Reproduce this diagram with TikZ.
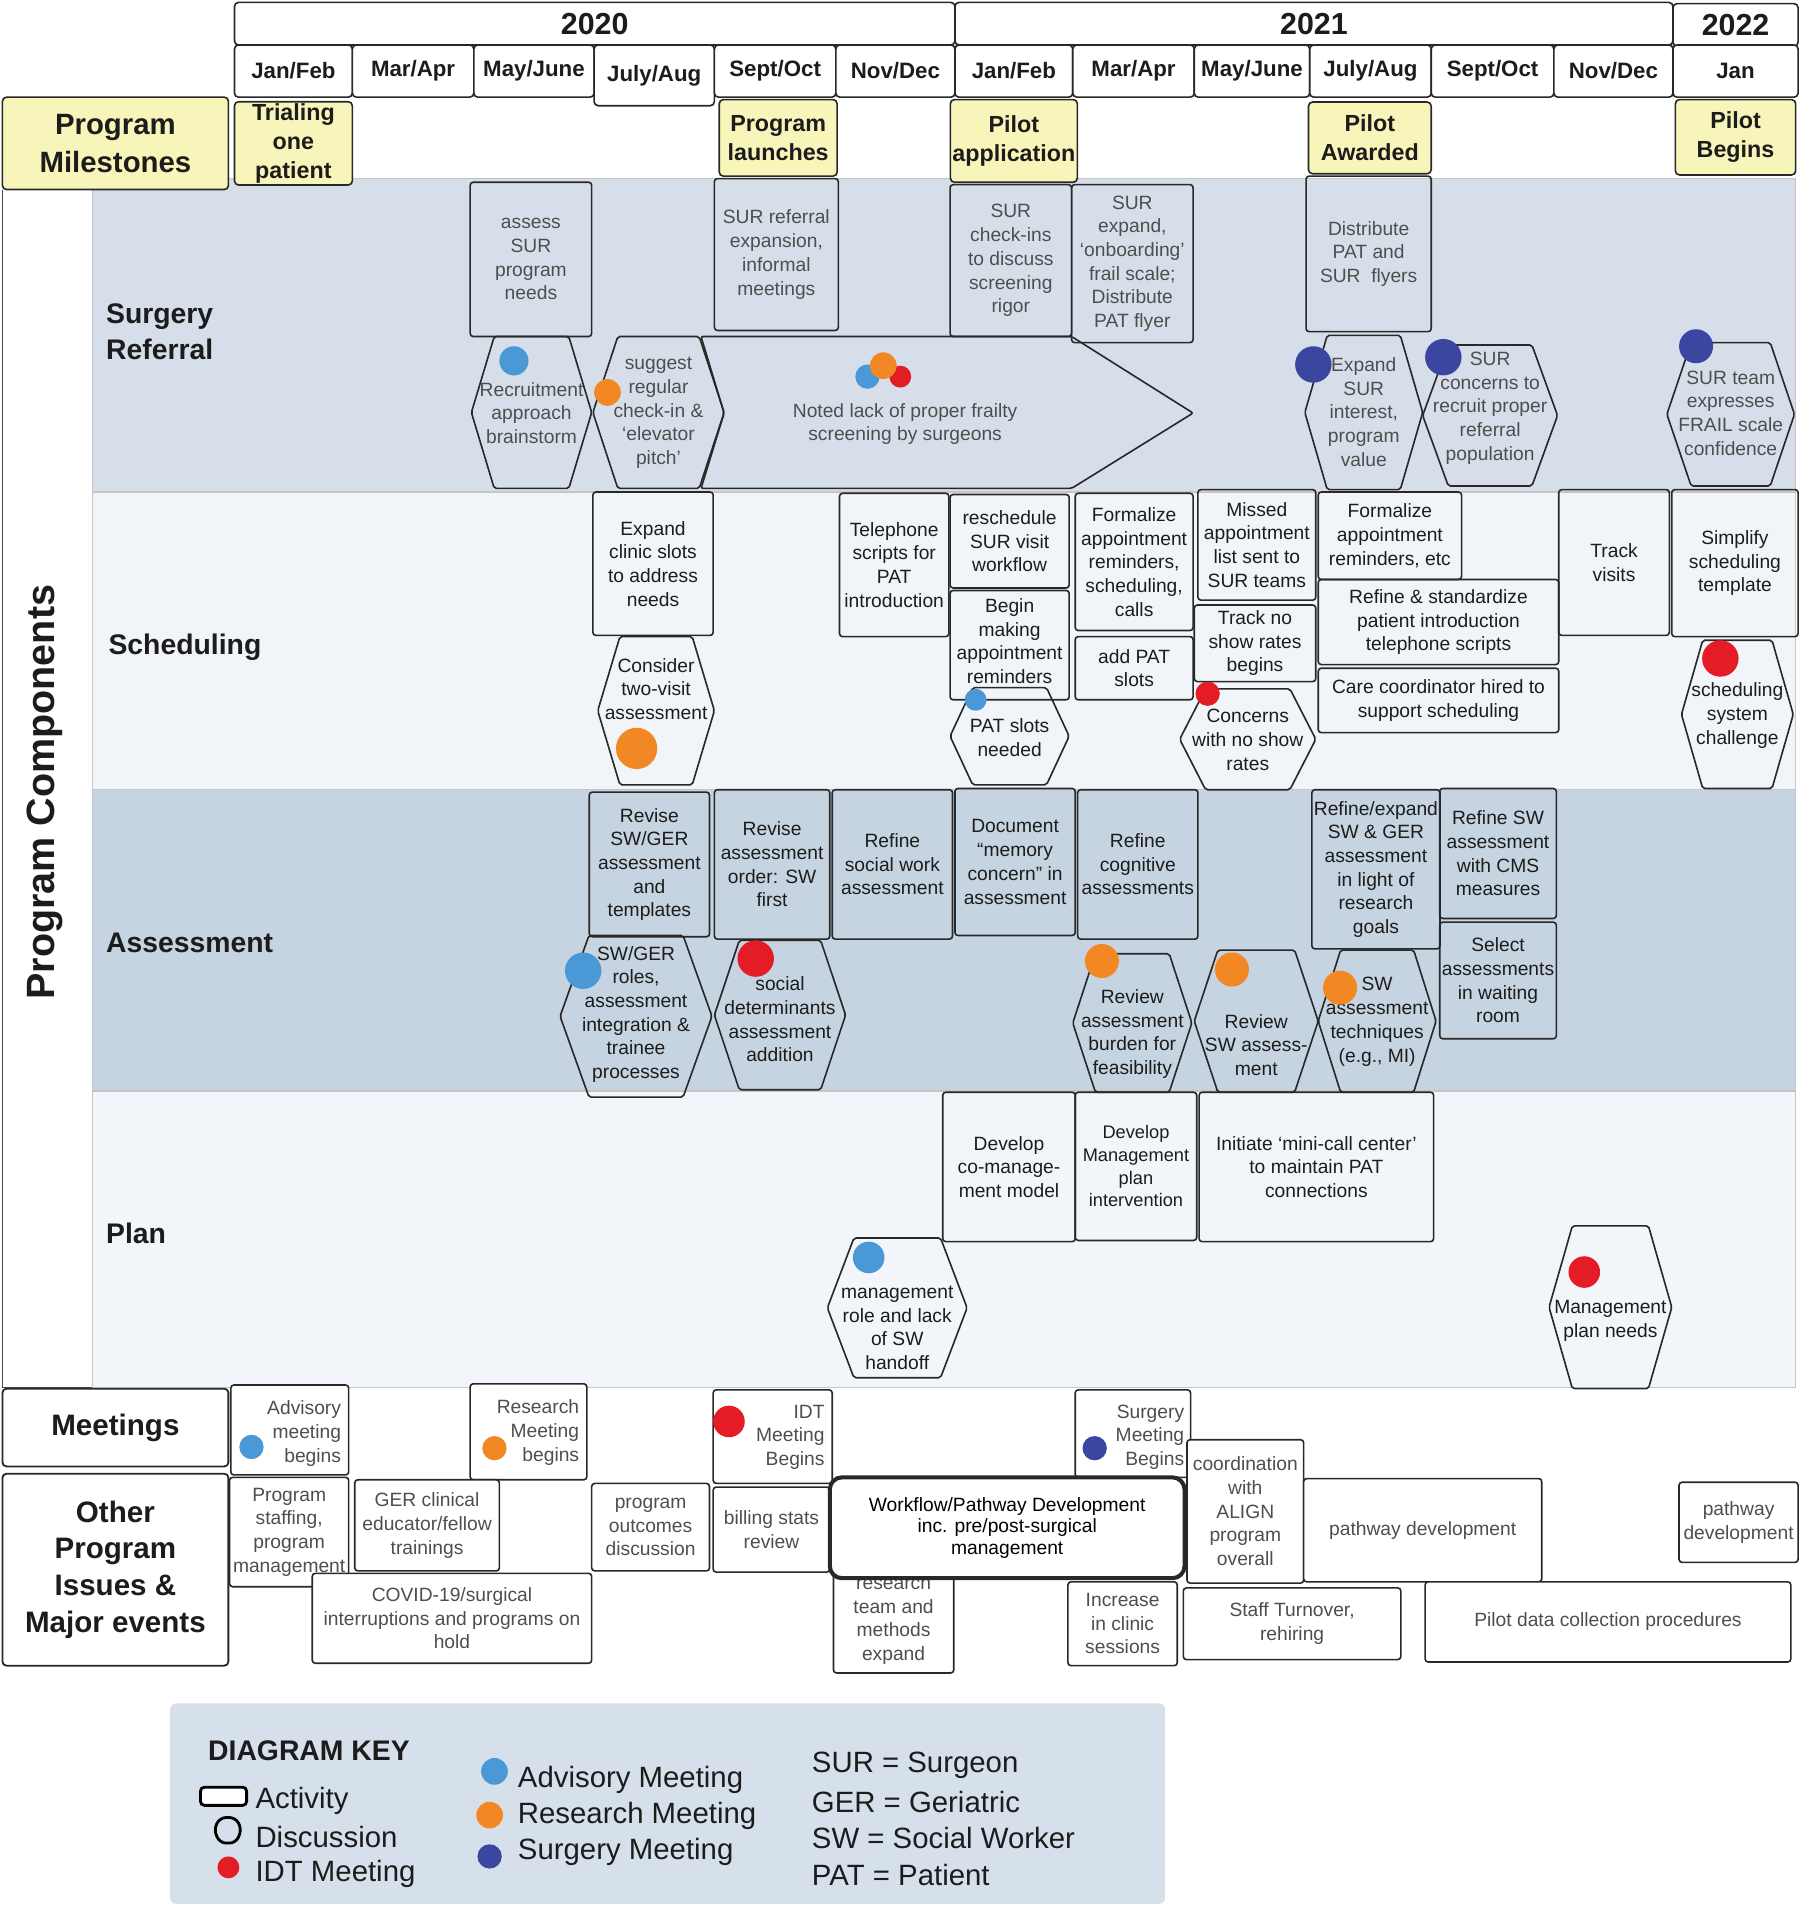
\documentclass[tikz,border=0pt]{standalone}
\usepackage{fontspec}
\setmainfont{Liberation Sans}
\definecolor{laneA}{RGB}{214,223,233}
\definecolor{laneB}{RGB}{241,245,250}
\definecolor{laneC}{RGB}{198,211,224}
\definecolor{laneD}{RGB}{242,246,251}
\definecolor{msY}{RGB}{248,245,186}
\definecolor{dBlue}{RGB}{74,152,214}
\definecolor{dOrange}{RGB}{242,136,36}
\definecolor{dRed}{RGB}{228,28,38}
\definecolor{dNavy}{RGB}{58,70,160}
\definecolor{keyBg}{RGB}{214,224,234}
\definecolor{txtG}{RGB}{78,78,78}
\definecolor{txtD}{RGB}{28,28,28}
\definecolor{edge}{RGB}{40,40,40}
\newcommand\actb[7][act]{%
  \pgfmathsetmacro\abw{(#5-#3)*0.6}\pgfmathsetmacro\abh{(#6-#4)*0.6}%
  \node[#1,minimum width=\abw pt,minimum height=\abh pt] (#2) at ({(#3+#5)/2},{(#4+#6)/2}) {#7};}
\newcommand\hexb[8][htxt]{%
  \pgfmathsetmacro\hxd{0.19*(#5-#3)}\pgfmathsetmacro\hxm{(#4+#6)/2}%
  \pgfmathsetmacro\hxa{#3+\hxd}\pgfmathsetmacro\hxb{#5-\hxd}%
  \draw[hexs] (#3,\hxm) -- (\hxa,#4) -- (\hxb,#4) -- (#5,\hxm) -- (\hxb,#6) -- (\hxa,#6) -- cycle;
  \node[#1] (#2) at ({(#3+#5)/2},#7) {#8};}
\newcommand\mdot[4]{\pgfmathsetmacro\dtr{#4*0.6}\fill[#1] (#2,#3) circle (\dtr pt);}
\begin{document}
\begin{tikzpicture}[x=0.6pt,y=-0.6pt,
  act/.style={draw=edge,line width=0.8pt,rounded corners=1.5pt,inner sep=1pt,align=center,
    font=\fontsize{9.5}{11.7}\selectfont,text=txtD},
  actg/.style={act,text=txtG},
  og/.style={act,text=txtG,fill=white},
  wf/.style={act,line width=2pt,rounded corners=6pt,fill=white,text=black,font=\fontsize{9.5}{10.6}\selectfont},
  mt/.style={act,fill=white},
  mtxt/.style={anchor=east,align=right,inner sep=0pt,font=\fontsize{9.5}{11.7}\selectfont,text=txtG},
  htxt/.style={align=center,inner sep=0pt,font=\fontsize{9.5}{11.7}\selectfont,text=txtD},
  htxtg/.style={htxt,text=txtG},
  hexs/.style={draw=edge,line width=0.8pt,rounded corners=1pt},
  hdr/.style={draw=edge,line width=0.8pt,rounded corners=2pt,fill=white,inner sep=1pt,
    font=\bfseries\fontsize{11}{13}\selectfont,text=txtD},
  yr/.style={hdr,font=\bfseries\fontsize{15}{17}\selectfont},
  ms/.style={draw=edge,line width=0.8pt,rounded corners=2pt,fill=msY,inner sep=1pt,align=center,
    font=\bfseries\fontsize{11.5}{14.2}\selectfont,text=txtD},
  side/.style={draw=edge,line width=0.9pt,rounded corners=2pt,fill=white,align=center,
    font=\bfseries\fontsize{14.6}{18.2}\selectfont,text=txtD},
  lbl/.style={anchor=west,align=left,inner sep=0pt,font=\bfseries\fontsize{14}{18}\selectfont,text=txtD},
  kl/.style={anchor=west,inner sep=0pt,font=\fontsize{14.5}{17}\selectfont,text=txtD},
  lane/.style={draw=gray!45,line width=0.6pt}
]
\useasboundingbox (0,0) rectangle (1482,1568);
\fill[white] (0,0) rectangle (1482,1568);

% ---------- header ----------
\actb[yr]{y2020}{193}{2}{786}{37}{2020}
\actb[yr]{y2021}{786}{2}{1377}{37}{2021}
\actb[yr]{y2022}{1377}{3}{1480}{38}{2022}
\actb[hdr]{m1}{193}{37}{290}{80}{Jan/Feb}
\actb[hdr]{m2}{290}{37}{390}{80}{Mar/Apr}
\actb[hdr]{m3}{390}{37}{489}{80}{May/June}
\actb[hdr]{m4}{489}{37}{588}{87}{July/Aug}
\actb[hdr]{m5}{588}{37}{688}{80}{Sept/Oct}
\actb[hdr]{m6}{688}{37}{786}{80}{Nov/Dec}
\actb[hdr]{m7}{786}{37}{883}{80}{Jan/Feb}
\actb[hdr]{m8}{883}{37}{983}{80}{Mar/Apr}
\actb[hdr]{m9}{983}{37}{1078}{80}{May/June}
\actb[hdr]{m10}{1078}{37}{1178}{80}{July/Aug}
\actb[hdr]{m11}{1178}{37}{1279}{80}{Sept/Oct}
\actb[hdr]{m12}{1279}{37}{1377}{80}{Nov/Dec}
\actb[hdr]{m13}{1377}{37}{1480}{80}{Jan}

% ---------- lanes ----------
\fill[laneA] (76,147) rectangle (1478,405);
\fill[laneB] (76,405) rectangle (1478,650);
\fill[laneC] (76,650) rectangle (1478,898);
\fill[laneD] (76,898) rectangle (1478,1142);
\draw[lane] (76,147) rectangle (1478,405);
\draw[lane] (76,405) rectangle (1478,650);
\draw[lane] (76,650) rectangle (1478,898);
\draw[lane] (76,898) rectangle (1478,1142);
\draw[draw=edge!85,line width=0.9pt] (2,156) -- (2,1142) -- (76,1142);
\node[rotate=90,inner sep=0pt,font=\bfseries\fontsize{19.5}{22}\selectfont,text=txtD] (pc) at (37,652) {Program Components};

% ---------- milestones ----------
\actb[ms,font=\bfseries\fontsize{14.5}{18.5}\selectfont]{pm}{2}{80}{188}{156}{Program\\Milestones}
\actb[ms]{ms1}{193}{84}{290}{152}{Trialing\\one\\patient}
\actb[ms]{ms2}{592}{82}{689}{145}{Program\\launches}
\actb[ms]{ms3}{786}{82}{883}{150}{Pilot\\application}
\actb[ms]{ms4}{1077}{84}{1178}{143}{Pilot\\Awarded}
\actb[ms]{ms5}{1379}{82}{1478}{144}{Pilot\\Begins}

% ---------- lane labels ----------
\node[lbl] (lSR) at (87,273) {Surgery\\Referral};
\node[lbl] (lSC) at (89,533) {Scheduling};
\node[lbl] (lAS) at (87,776) {Assessment};
\node[lbl] (lPL) at (87,1015) {Plan};

% ---------- surgery referral ----------
\draw[hexs] (577,277) -- (882,277) -- (982,340) -- (882,402) -- (577,402) -- (596,340) -- cycle;
\node[htxtg] (noted) at (745,349) {Noted lack of proper frailty\\screening by surgeons};
\actb[actg]{sr1}{387}{150}{487}{277}{assess\\SUR\\program\\needs}
\actb[actg]{sr2}{588}{147}{690}{272}{SUR referral\\expansion,\\informal\\meetings}
\actb[actg]{sr3}{782}{152}{882}{277}{SUR\\check-ins\\to discuss\\screening\\rigor}
\actb[actg]{sr4}{882}{152}{982}{282}{SUR\\expand,\\`onboarding'\\frail scale;\\Distribute\\PAT flyer}
\actb[actg]{sr5}{1075}{145}{1178}{273}{Distribute\\PAT and\\SUR~ flyers}
\hexb[htxtg]{h1}{388}{277}{487}{402}{340}{Recruitment\\approach\\brainstorm}
\hexb[htxtg]{h2}{488}{277}{596}{402}{340}{suggest\\regular\\check-in \&\\`elevator\\pitch'}
\hexb[htxtg]{h3}{1074}{276}{1171}{403}{339}{Expand\\SUR\\interest,\\program\\value}
\hexb[htxtg]{h4}{1171}{284}{1282}{400}{336}{SUR\\concerns to\\recruit proper\\referral\\population}
\hexb[htxtg]{h5}{1372}{282}{1477}{400}{340}{SUR team\\expresses\\FRAIL scale\\confidence}
\mdot{dBlue}{423}{297}{12}
\mdot{dOrange}{500}{323}{11}
\mdot{dBlue}{714}{310}{10}
\mdot{dRed}{741}{310}{9}
\mdot{dOrange}{727}{301}{11}
\mdot{dNavy}{1081}{300}{15}
\mdot{dNavy}{1188}{294}{15}
\mdot{dNavy}{1396}{285}{14}

% ---------- scheduling ----------
\actb{sc1}{488}{405}{587}{523}{Expand\\clinic slots\\to address\\needs}
\hexb{h6}{492}{524}{588}{646}{567}{Consider\\two-visit\\assessment}
\mdot{dOrange}{524}{616}{17}
\actb{sc2}{691}{406}{781}{524}{Telephone\\scripts for\\PAT\\introduction}
\actb{sc3}{782}{407}{880}{484}{reschedule\\SUR visit\\workflow}
\actb[act,text depth=4pt]{sc4}{782}{486}{880}{576}{Begin\\making\\appointment\\reminders}
\hexb{h7}{782}{566}{880}{646}{607}{PAT slots\\needed}
\mdot{dBlue}{803}{576}{9}
\actb{sc5}{885}{406}{982}{519}{Formalize\\appointment\\reminders,\\scheduling,\\calls}
\actb{sc6}{885}{524}{982}{576}{add PAT\\slots}
\actb{sc7}{986}{403}{1083}{494}{Missed\\appointment\\list sent to\\SUR teams}
\actb{sc8}{983}{498}{1083}{561}{Track no\\show rates\\begins}
\hexb{h8}{971}{567}{1083}{650}{609}{Concerns\\with no show\\rates}
\mdot{dRed}{994}{571}{10}
\actb{sc9}{1085}{405}{1203}{477}{Formalize\\appointment\\reminders, etc}
\actb{sc10}{1085}{477}{1283}{547}{Refine \& standardize\\patient introduction\\telephone scripts}
\actb{sc11}{1085}{550}{1283}{603}{Care coordinator hired to\\support scheduling}
\actb{sc12}{1283}{403}{1374}{523}{Track\\visits}
\actb{sc13}{1376}{403}{1480}{524}{Simplify\\scheduling\\template}
\hexb{h9}{1384}{527}{1476}{649}{589}{scheduling\\system\\challenge}
\mdot{dRed}{1416}{542}{15}

% ---------- assessment ----------
\actb{as1}{485}{652}{584}{771}{Revise\\SW/GER\\assessment\\and\\templates}
\actb{as2}{588}{650}{683}{773}{Revise\\assessment\\order: SW\\first}
\actb{as3}{685}{650}{784}{773}{Refine\\social work\\assessment}
\actb{as4}{786}{649}{885}{770}{Document\\``memory\\concern'' in\\assessment}
\actb{as5}{887}{650}{986}{773}{Refine\\cognitive\\assessments}
\hexb{h10}{461}{770}{586}{903}{835}{SW/GER\\roles,\\assessment\\integration \&\\trainee\\processes}
\mdot{dBlue}{480}{799}{15}
\hexb{h11}{588}{774}{696}{897}{839}{social\\determinants\\assessment\\addition}
\mdot{dRed}{622}{789}{15}
\hexb{h12}{883}{785}{981}{899}{851}{Review\\assessment\\burden for\\feasibility}
\mdot{dOrange}{907}{791}{14}
\hexb{h13}{983}{782}{1085}{899}{860}{Review\\SW assess-\\ment}
\mdot{dOrange}{1014}{798}{14}
\hexb{h14}{1085}{782}{1182}{899}{841}{SW\\assessment\\techniques\\(e.g., MI)}
\mdot{dOrange}{1103}{813}{14}
\actb{as6}{1083}{650}{1182}{781}{Refine/expand\\SW \& GER\\assessment\\in light of\\research\\goals}
\actb{as7}{1185}{649}{1281}{756}{Refine SW\\assessment\\with CMS\\measures}
\actb{as8}{1185}{759}{1281}{855}{Select\\assessments\\in waiting\\room}

% ---------- plan ----------
\actb{pl1}{776}{899}{885}{1022}{Develop\\co-manage-\\ment model}
\actb[act,font=\fontsize{9}{11.2}\selectfont]{pl2}{885}{899}{985}{1021}{Develop\\Management\\plan\\intervention}
\actb{pl3}{987}{899}{1180}{1022}{Initiate `mini-call center'\\to maintain PAT\\connections}
\hexb{h15}{681}{1019}{796}{1134}{1093}{management\\role and lack\\of SW\\handoff}
\mdot{dBlue}{715}{1035}{13}
\hexb{h16}{1275}{1009}{1376}{1143}{1087}{Management\\plan needs}
\mdot{dRed}{1304}{1047}{13}

% ---------- meetings ----------
\actb[side]{lm}{2}{1143}{188}{1207}{Meetings}
\actb[mt]{mt1}{190}{1140}{287}{1214}{}
\node[mtxt] (mt1t) at (281,1180) {Advisory\\meeting\\begins};
\mdot{dBlue}{207}{1191}{10}
\actb[mt]{mt2}{387}{1139}{483}{1218}{}
\node[mtxt] (mt2t) at (477,1179) {Research\\Meeting\\begins};
\mdot{dOrange}{407}{1192}{10}
\actb[mt]{mt3}{587}{1144}{685}{1221}{}
\node[mtxt] (mt3t) at (679,1183) {IDT\\Meeting\\Begins};
\mdot{dRed}{600}{1170}{13}
\actb[mt]{mt4}{885}{1144}{980}{1216}{}
\node[mtxt] (mt4t) at (975,1183) {Surgery\\Meeting\\Begins};
\mdot{dNavy}{901}{1192}{10}

% ---------- other issues ----------
\actb[side]{lo}{2}{1213}{188}{1371}{Other\\Program\\Issues \&\\Major events}
\actb[og]{o1}{189}{1216}{287}{1306}{Program\\staffing,\\program\\management}
\actb[og]{o2}{292}{1218}{411}{1293}{GER clinical\\educator/fellow\\trainings}
\actb[og]{o3}{257}{1295}{487}{1369}{COVID-19/surgical\\interruptions and programs on\\hold}
\actb[og]{o4}{487}{1221}{584}{1293}{program\\outcomes\\discussion}
\actb[og]{o5}{587}{1224}{683}{1294}{billing stats\\review}
\actb[og]{o6}{686}{1290}{785}{1377}{research\\team and\\methods\\expand}
\actb[wf]{o7}{683}{1216}{975}{1299}{Workflow/Pathway Development\\inc. pre/post-surgical\\management}
\actb[og]{o8}{977}{1185}{1073}{1303}{coordination\\with\\ALIGN\\program\\overall}
\actb[og]{o9}{1073}{1217}{1269}{1302}{pathway development}
\actb[og]{o10}{1382}{1220}{1480}{1286}{pathway\\development}
\actb[og]{o11}{879}{1302}{969}{1371}{Increase\\in clinic\\sessions}
\actb[og]{o12}{974}{1307}{1153}{1366}{Staff Turnover,\\rehiring}
\actb[og]{o13}{1173}{1302}{1474}{1368}{Pilot data collection procedures}

% ---------- key ----------
\fill[keyBg,rounded corners=3pt] (140,1402) rectangle (959,1567);
\node[anchor=west,inner sep=0pt,font=\bfseries\fontsize{14}{16}\selectfont,text=txtD] (kt) at (171,1441) {DIAGRAM KEY};
\draw[line width=1.4pt,rounded corners=2pt,fill=white] (165,1471) rectangle (203,1486);
\node[kl] (k1) at (210,1482) {Activity};
\draw[line width=1.4pt,rounded corners=3pt] (176,1506) -- (181,1496) -- (194,1496) -- (199,1506) -- (194,1517) -- (181,1517) -- cycle;
\node[kl] (k2) at (210,1512) {Discussion};
\mdot{dRed}{188}{1537}{9}
\node[kl] (k3) at (210,1542) {IDT Meeting};
\mdot{dBlue}{407}{1458}{11}
\node[kl] (k4) at (426,1465) {Advisory Meeting};
\mdot{dOrange}{403}{1494}{11}
\node[kl] (k5) at (426,1495) {Research Meeting};
\mdot{dNavy}{403}{1528}{10}
\node[kl] (k6) at (426,1524) {Surgery Meeting};
\node[kl] (k7) at (668,1453) {SUR = Surgeon};
\node[kl] (k8) at (668,1483) {GER = Geriatric};
\node[kl] (k9) at (668,1513) {SW = Social Worker};
\node[kl] (k10) at (668,1543) {PAT = Patient};
\end{tikzpicture}
\end{document}
